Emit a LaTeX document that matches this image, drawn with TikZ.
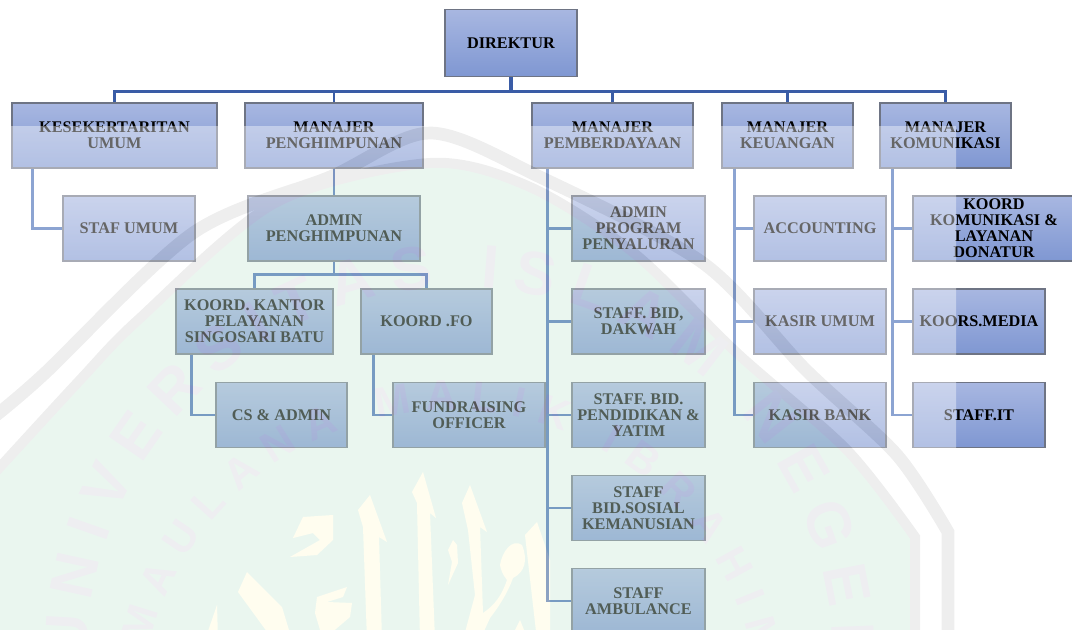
\documentclass[tikz,border=0pt]{standalone}
\usepackage{fontspec}
\setmainfont{Liberation Serif}
\newfontfamily\wmfont{Liberation Sans}
\usetikzlibrary{decorations.text}
\definecolor{boxtop}{HTML}{A8B7E1}
\definecolor{boxbottom}{HTML}{7F97D2}
\definecolor{boxline}{HTML}{6E7484}
\definecolor{linktop}{HTML}{3A5CA6}
\definecolor{linkchild}{HTML}{4068B4}
\definecolor{wmgreen}{RGB}{203,233,216}
\definecolor{wmring}{RGB}{212,212,212}
\definecolor{wmyellow}{RGB}{255,250,215}
\definecolor{wmletter}{RGB}{212,212,220}
\tikzstyle{orgbox}=[rectangle, draw=boxline, line width=1.1pt, top color=boxtop, bottom color=boxbottom, align=center, inner sep=0pt, minimum height=49pt, font=\fontsize{12.2}{12}\selectfont\bfseries]
\tikzstyle{toplink}=[draw=linktop, line width=2.2pt]
\tikzstyle{childlink}=[draw=linkchild, line width=2.2pt]
\tikzset{wd/.style={minimum width=#1*0.75pt}, off/.style={xshift=#1*0.75pt}}
\newcommand{\orgbox}{\node[orgbox]}

\begin{document}
\begin{tikzpicture}[x=0.75pt, y=-0.75pt]
    \useasboundingbox (0,0) rectangle (1072,629);
    % top row
    \orgbox (direktur) at (511,43) [wd=132, minimum height=50pt]{DIREKTUR};
    \orgbox (kesek) at (114.5,135.5) [wd=205]{KESEKERTARITAN\\UMUM};
    \orgbox (mhimpun) at (334,135.5) [wd=178]{MANAJER\\PENGHIMPUNAN};
    \orgbox (mdaya) at (612.5,135.5) [wd=161]{MANAJER\\PEMBERDAYAAN};
    \orgbox (muang) at (787.5,135.5) [wd=131]{MANAJER\\KEUANGAN};
    \orgbox (mkom) at (945.5,135.5) [wd=131]{MANAJER\\KOMUNIKASI};
    % left branches
    \orgbox (stafumum) at (129,228.5) [wd=132]{STAF UMUM};
    \orgbox (adminhimpun) at (334,228.5) [wd=172]{ADMIN\\PENGHIMPUNAN};
    \orgbox (koordkantor) at (254.5,321.5) [wd=157]{KOORD. KANTOR\\PELAYANAN\\SINGOSARI BATU};
    \orgbox (koordfo) at (426.5,321.5) [wd=131]{KOORD .FO};
    \orgbox (csadmin) at (281.5,415) [wd=131]{CS \& ADMIN};
    \orgbox (fundraising) at (469,415) [wd=152]{FUNDRAISING\\OFFICER};
    % pemberdayaan column
    \orgbox (adminprogram) at (638.5,228.5) [wd=133]{ADMIN\\PROGRAM\\PENYALURAN};
    \orgbox (dakwah) at (638.5,321.5) [wd=133]{STAFF. BID,\\DAKWAH};
    \orgbox (pendidikan) at (638.5,415) [wd=133]{STAFF. BID.\\PENDIDIKAN \&\\YATIM};
    \orgbox (sosial) at (638.5,508) [wd=133]{STAFF\\BID.SOSIAL\\KEMANUSIAN};
    \orgbox (ambulance) at (638.5,601) [wd=133]{STAFF\\AMBULANCE};
    % keuangan column
    \orgbox (accounting) at (820,228.5) [wd=132]{ACCOUNTING};
    \orgbox (kasirumum) at (820,321.5) [wd=132]{KASIR UMUM};
    \orgbox (kasirbank) at (820,415) [wd=132]{KASIR BANK};
    % komunikasi column
    \orgbox (koordkom) at (994,228.5) [wd=162]{KOORD\\KOMUNIKASI \&\\LAYANAN\\DONATUR};
    \orgbox (media) at (979,321.5) [wd=132]{KOORS.MEDIA};
    \orgbox (staffit) at (979,415) [wd=132]{STAFF.IT};
    % links
    \draw[toplink, line width=3pt] (direktur.south) -- ++(0,14) coordinate (bus);
    \draw[toplink] (bus) -| (kesek.north);
    \draw[toplink] (bus) -| (mhimpun.north);
    \draw[toplink] (bus) -| (mdaya.north);
    \draw[toplink] (bus) -| (muang.north);
    \draw[toplink] (bus) -| (mkom.north);
    \draw[childlink] ([off=21]kesek.south west) |- (stafumum.west);
    \draw[childlink] (mhimpun.south) -- (adminhimpun.north);
    \draw[childlink] (adminhimpun.south) -- ++(0,13) coordinate (busb);
    \draw[childlink] (busb) -| (koordkantor.north);
    \draw[childlink] (busb) -| (koordfo.north);
    \draw[childlink] ([off=16]koordkantor.south west) |- (csadmin.west);
    \draw[childlink] ([off=13]koordfo.south west) |- (fundraising.west);
    \draw[childlink] ([off=16]mdaya.south west) |- (adminprogram.west);
    \draw[childlink] ([off=16]mdaya.south west) |- (dakwah.west);
    \draw[childlink] ([off=16]mdaya.south west) |- (pendidikan.west);
    \draw[childlink] ([off=16]mdaya.south west) |- (sosial.west);
    \draw[childlink] ([off=16]mdaya.south west) |- (ambulance.west);
    \draw[childlink] ([off=13]muang.south west) |- (accounting.west);
    \draw[childlink] ([off=13]muang.south west) |- (kasirumum.west);
    \draw[childlink] ([off=13]muang.south west) |- (kasirbank.west);
    \draw[childlink] ([off=13]mkom.south west) |- (koordkom.west);
    \draw[childlink] ([off=13]mkom.south west) |- (media.west);
    \draw[childlink] ([off=13]mkom.south west) |- (staffit.west);
    % page watermark
    \begin{scope}[transparency group, opacity=0.4]
        \clip (0,126) rectangle (956,629);
        \fill[white] (0,126) rectangle (956,629);
        \fill[wmgreen] plot[smooth] coordinates {(-10,478) (80,380) (138,320) (275,203) (430,163) (530,187) (634,253) (737,353) (847,450) (915,537)} -- (915,640) -- (-10,640) -- cycle;
        \draw[wmring, line width=7.5pt] plot[smooth] coordinates {(-10,478) (80,380) (138,320) (275,203) (430,163) (530,187) (634,253) (737,353) (847,450) (915,537)} -- (915,640);
        \draw[wmring, line width=9.5pt] plot[smooth] coordinates {(-10,420) (43,375) (193,233) (330,177) (430,133) (540,177) (703,263) (806,370) (897,455) (948,532)} -- (948,640);
        % calligraphy
        \fill[wmyellow] (370,495) -- (358,510) -- (363,527) -- (367,640) -- (382,640) -- (379,537) -- (387,542) -- cycle;
        \fill[wmyellow] (423,472) -- (412,492) -- (417,503) -- (420,640) -- (435,640) -- (430,513) -- (436,518) -- cycle;
        \fill[wmyellow] (470,485) -- (462,503) -- (468,530) -- (475,595) -- (463,640) -- (480,640) -- (490,618) .. controls (500,605) and (508,592) .. (513,578) .. controls (525,572) and (528,560) .. (522,545) .. controls (512,538) and (502,552) .. (500,565) .. controls (502,575) and (506,578) .. (507,580) .. controls (502,595) and (495,605) .. (483,613) -- (480,527) -- (487,532) -- cycle;
        \fill[wmyellow] (453,540) -- (448,550) -- (452,562) -- (448,585) -- (458,563) -- (457,545) -- cycle;
        \fill[wmyellow] (333,515) -- (303,517) -- (293,538) -- (313,533) -- (320,540) -- (290,557) -- (317,555) -- (333,540) -- cycle;
        \fill[wmyellow] (247,572) -- (238,592) -- (273,640) -- (292,640) -- (282,607) -- cycle;
        \fill[wmyellow] (217,605) -- (205,640) -- (218,640) -- cycle;
        \fill[wmyellow] (317,597) -- (347,587) -- (343,597) -- (327,602) -- (352,603) -- (350,617) -- (323,640) -- (315,613) -- cycle;
        \fill[wmyellow] (537,522) -- (525,535) -- (537,640) -- (550,640) -- (550,560) -- cycle;
        \fill[wmyellow] (520,620) -- (510,640) -- (528,640) -- cycle;
        % lettering
        \path[decorate, decoration={text along path, text align={fit to path}, text={|\wmfont\bfseries\fontsize{46}{46}\selectfont\color{wmletter}|UNIVERSITAS ISLAM NEGERI}}] (87,660) arc[start angle=-180, end angle=6, radius=373];
        \path[decorate, decoration={text along path, text align={fit to path}, text={|\wmfont\bfseries\fontsize{32}{32}\selectfont\color{wmletter}|MAULANA MALIK IBRAHIM}}] (149,645) arc[start angle=-166, end angle=-12, radius=310];
    \end{scope}
\end{tikzpicture}
\end{document}
